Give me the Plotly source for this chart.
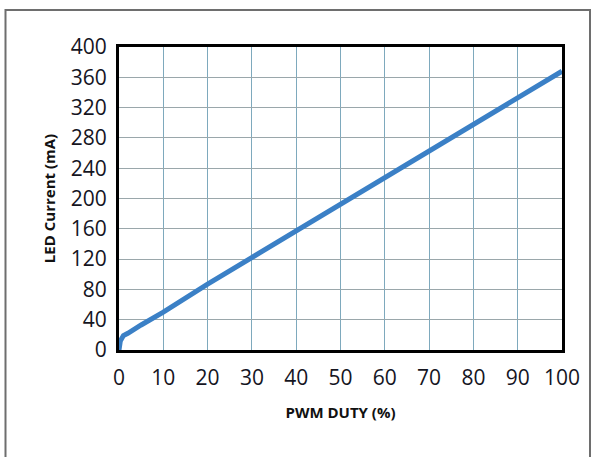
import plotly.graph_objects as go

# Data
pwm_duty = [0, 0.3, 1, 2, 5, 10, 20, 30, 40, 50, 60, 70, 80, 90, 100]
led_current = [0, 12, 19, 22, 33, 50, 87, 122, 157, 192, 227, 262, 297, 332, 368]

x_ticks = [0, 10, 20, 30, 40, 50, 60, 70, 80, 90, 100]
y_ticks = [0, 40, 80, 120, 160, 200, 240, 280, 320, 360, 400]

W, H = 591, 457
L, R, T, B = 119, 29, 47, 107
pw, ph = W - L - R, H - T - B

def px(x):
    return (x - L) / pw

def py(y):
    return (H - B - y) / ph

fig = go.Figure()
fig.add_trace(go.Scatter(
    x=pwm_duty, y=led_current, mode="lines",
    line=dict(color="#3b80c6", width=5),
    hoverinfo="skip", showlegend=False,
))

font_family = "Open Sans, DejaVu Sans, sans-serif"
tick_font = dict(family=font_family, size=21, color="#15151f", weight=500)
title_font = dict(family=font_family, size=15, color="#111111")

border = dict(color="#6e6e6e", width=2)
shapes = [
    dict(type="line", xref="paper", yref="paper",
         x0=px(5), y0=py(10), x1=px(590), y1=py(10), line=border, layer="above"),
    dict(type="line", xref="paper", yref="paper",
         x0=px(5.5), y0=py(9), x1=px(5.5), y1=py(462), line=border, layer="above"),
    dict(type="line", xref="paper", yref="paper",
         x0=px(590), y0=py(9), x1=px(590), y1=py(462), line=border, layer="above"),
]

fig.update_layout(
    width=W, height=H,
    margin=dict(l=L, r=R, t=T, b=B, autoexpand=False),
    paper_bgcolor="white", plot_bgcolor="white",
    showlegend=False,
    xaxis=dict(
        range=[0, 100], tickvals=x_ticks, ticktext=[str(v) for v in x_ticks],
        showgrid=True, gridcolor="#7ea9bd", gridwidth=1,
        showline=True, linecolor="black", linewidth=3, mirror=True,
        zeroline=False, ticks="", tickfont=tick_font, ticklabelstandoff=7,
        title=dict(text="<b>PWM DUTY (%)</b>", font=title_font, standoff=18),
        fixedrange=True, automargin=False,
    ),
    yaxis=dict(
        range=[0, 400], tickvals=y_ticks, ticktext=[str(v) for v in y_ticks],
        showgrid=True, gridcolor="#9aa7ab", gridwidth=1,
        showline=True, linecolor="black", linewidth=3, mirror=True,
        zeroline=False, ticks="", tickfont=tick_font, ticklabelstandoff=5,
        title=dict(text="<b>LED Current (mA)</b>", font=title_font, standoff=12),
        fixedrange=True, automargin=False,
    ),
    shapes=shapes,
)

fig.write_html(
    "out.html",
    config={"displayModeBar": False},
    post_script="document.body.style.margin='0';document.body.style.padding='0';",
)
